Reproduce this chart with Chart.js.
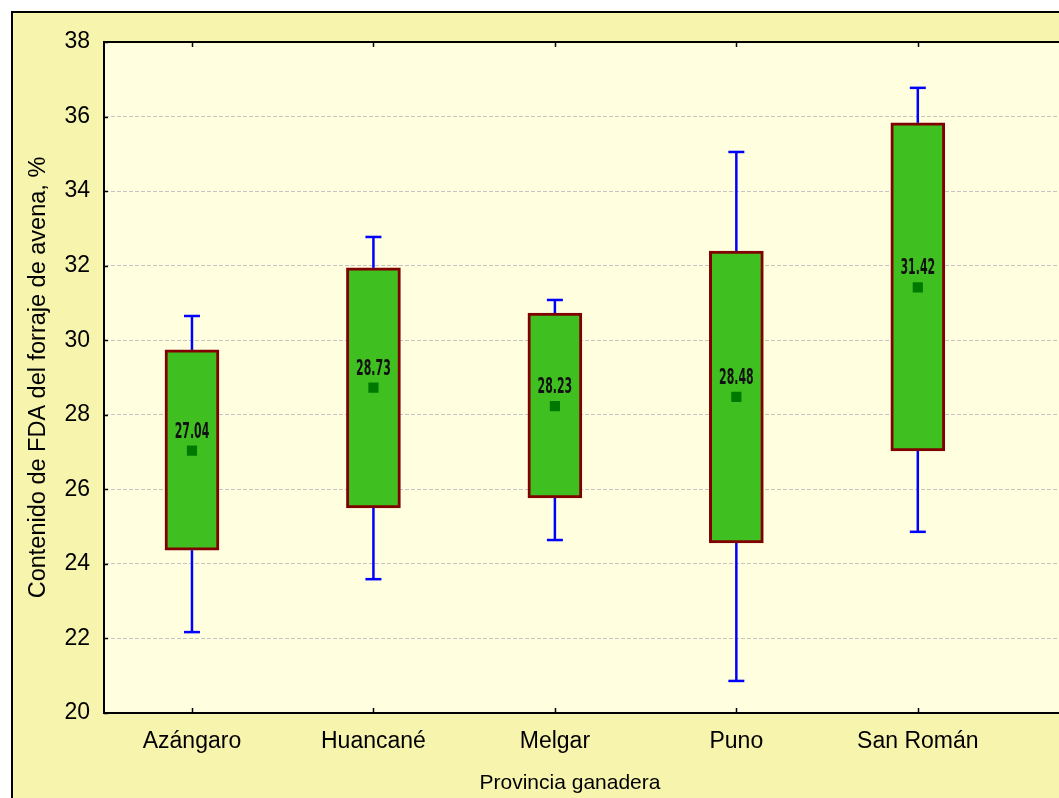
<!DOCTYPE html>
<html lang="es">
<head>
<meta charset="utf-8">
<title>Contenido de FDA del forraje de avena por provincia</title>
<script src="https://cdn.jsdelivr.net/npm/chart.js@4.4.1/dist/chart.umd.min.js"></script>
<style>
  html, body { margin: 0; padding: 0; background: #ffffff; overflow: hidden; }
  canvas { display: block; }
</style>
</head>
<body>
<canvas id="chart" width="1066" height="798"></canvas>
<script>
// Provincias ganaderas
const categories = ['Azángaro', 'Huancané', 'Melgar', 'Puno', 'San Román'];
// Media del contenido de FDA (%)
const means = [27.04, 28.73, 28.23, 28.48, 31.42];
// Límites de la caja
const boxLow = [24.37, 25.50, 25.77, 24.56, 27.03];
const boxHigh = [29.74, 31.94, 30.73, 32.39, 35.83];
// Límites de los bigotes
const whiskerLow = [22.17, 23.59, 24.64, 20.86, 24.86];
const whiskerHigh = [30.65, 32.77, 31.08, 35.05, 36.77];
// Marcas del eje Y
const yMin = 20, yMax = 38, yStep = 2;

const PANEL_BG = '#F7F4AE';
const PLOT_BG = '#FFFFE0';
const FONT = "'Liberation Sans', Arial, sans-serif";

// Frame, panel and plot background
const backgroundPlugin = {
  id: 'panelBackground',
  beforeDraw(chart) {
    const { ctx, width, height, chartArea } = chart;
    ctx.save();
    ctx.fillStyle = '#ffffff';
    ctx.fillRect(0, 0, width, height);
    ctx.fillStyle = PANEL_BG;
    ctx.fillRect(11, 11, width - 11, height - 11);
    ctx.strokeStyle = '#000000';
    ctx.lineWidth = 2;
    ctx.beginPath();
    ctx.moveTo(12, height);
    ctx.lineTo(12, 12);
    ctx.lineTo(width, 12);
    ctx.stroke();
    ctx.fillStyle = PLOT_BG;
    ctx.fillRect(chartArea.left, chartArea.top, width - chartArea.left, chartArea.bottom - chartArea.top);
    ctx.restore();
  }
};

// Whiskers drawn from the scales, under the boxes
const whiskerPlugin = {
  id: 'whiskers',
  beforeDatasetsDraw(chart) {
    const { ctx, scales: { x, y } } = chart;
    ctx.save();
    ctx.strokeStyle = '#0000FF';
    ctx.lineWidth = 2.5;
    const cap = 8;
    categories.forEach((_, i) => {
      const px = x.getPixelForValue(i);
      const segs = [[whiskerLow[i], boxLow[i]], [boxHigh[i], whiskerHigh[i]]];
      segs.forEach(([a, b]) => {
        ctx.beginPath();
        ctx.moveTo(px, y.getPixelForValue(a));
        ctx.lineTo(px, y.getPixelForValue(b));
        ctx.stroke();
      });
      [whiskerLow[i], whiskerHigh[i]].forEach(v => {
        const py = y.getPixelForValue(v);
        ctx.beginPath();
        ctx.moveTo(px - cap, py);
        ctx.lineTo(px + cap, py);
        ctx.stroke();
      });
    });
    ctx.restore();
  }
};

// Top frame line, inner tick marks and mean labels
const decorPlugin = {
  id: 'decor',
  afterDatasetsDraw(chart) {
    const { ctx, chartArea, scales: { x, y } } = chart;
    ctx.save();
    ctx.strokeStyle = '#000000';
    ctx.lineWidth = 2;
    ctx.beginPath();
    ctx.moveTo(chartArea.left - 1, chartArea.top);
    ctx.lineTo(chart.width, chartArea.top);
    ctx.stroke();

    ctx.lineWidth = 1.5;
    categories.forEach((_, i) => {
      const px = Math.round(x.getPixelForValue(i)) + 0.5;
      ctx.beginPath();
      ctx.moveTo(px, chartArea.bottom);
      ctx.lineTo(px, chartArea.bottom - 5);
      ctx.moveTo(px, chartArea.top);
      ctx.lineTo(px, chartArea.top + 5);
      ctx.stroke();
    });
    for (let v = yMin; v <= yMax; v += yStep) {
      const py = Math.round(y.getPixelForValue(v)) + 0.5;
      ctx.beginPath();
      ctx.moveTo(chartArea.left, py);
      ctx.lineTo(chartArea.left + 4, py);
      ctx.stroke();
    }

    // Mean value labels above each marker
    const meta = chart.getDatasetMeta(1);
    ctx.fillStyle = '#111111';
    ctx.font = "bold 21px 'DejaVu Sans Condensed', 'DejaVu Sans', sans-serif";
    ctx.textAlign = 'center';
    ctx.textBaseline = 'alphabetic';
    meta.data.forEach((pt, i) => {
      ctx.save();
      ctx.translate(pt.x, pt.y - 13);
      ctx.scale(0.58, 1);
      ctx.fillText(means[i].toFixed(2), 0, 0);
      ctx.restore();
    });

    // X axis title
    ctx.fillStyle = '#000000';
    ctx.font = '21px ' + FONT;
    ctx.textAlign = 'center';
    ctx.textBaseline = 'middle';
    ctx.fillText('Provincia ganadera', 570, 783);
    ctx.restore();
  }
};

new Chart(document.getElementById('chart'), {
  data: {
    datasets: [
      {
        type: 'bar',
        order: 2,
        data: categories.map((_, i) => ({ x: i, y: [boxLow[i], boxHigh[i]] })),
        backgroundColor: '#40C020',
        borderColor: '#800000',
        borderWidth: 3,
        borderSkipped: false,
        barThickness: 54
      },
      {
        type: 'scatter',
        order: 1,
        data: categories.map((_, i) => ({ x: i, y: means[i] })),
        pointStyle: 'rect',
        pointRadius: 7.2,
        backgroundColor: '#007800',
        borderWidth: 0
      }
    ]
  },
  options: {
    responsive: false,
    animation: false,
    devicePixelRatio: 1,
    layout: { padding: { top: 42, left: 0, right: 0, bottom: 0 } },
    plugins: {
      legend: { display: false },
      tooltip: { enabled: false }
    },
    scales: {
      x: {
        type: 'linear',
        position: 'bottom',
        offset: false,
        min: -0.4848,
        max: 4.777,
        afterFit(scale) { scale.height = 85; },
        afterBuildTicks(scale) { scale.ticks = categories.map((_, i) => ({ value: i })); },
        ticks: {
          autoSkip: false,
          maxRotation: 0,
          padding: 15,
          color: '#000000',
          font: { family: FONT, size: 23 },
          callback: v => categories[v] ?? ''
        },
        grid: { display: false, drawTicks: false },
        border: { display: true, color: '#000000', width: 2 }
      },
      y: {
        type: 'linear',
        position: 'left',
        min: yMin,
        max: yMax,
        afterFit(scale) { scale.width = 104; },
        ticks: {
          stepSize: yStep,
          padding: 14,
          color: '#000000',
          font: { family: FONT, size: 23 }
        },
        grid: { color: '#C4C4C4', lineWidth: 1, drawTicks: false },
        border: { display: true, color: '#000000', width: 2, dash: [4, 2] },
        title: {
          display: true,
          text: 'Contenido de FDA del forraje de avena, %',
          color: '#000000',
          font: { family: FONT, size: 23.5 },
          padding: { top: 24, bottom: 0 }
        }
      }
    }
  },
  plugins: [backgroundPlugin, whiskerPlugin, decorPlugin]
});
</script>
</body>
</html>
